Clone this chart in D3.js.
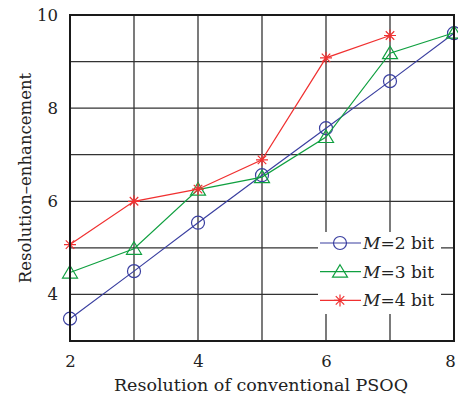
<!DOCTYPE html>
<html>
<head>
<meta charset="utf-8">
<script src="https://cdn.jsdelivr.net/npm/d3@7"></script>
<style>
  body { margin: 0; background: #fff; }
  text { font-family: "DejaVu Serif", serif; fill: #222; }
</style>
</head>
<body>
<svg id="chart" width="458" height="400"></svg>
<script>
const xValues = [2, 3, 4, 5, 6, 7, 8]
const m2 = [3.48, 4.50, 5.54, 6.56, 7.57, 8.58, 9.61]
const m3 = [4.47, 4.98, 6.25, 6.52, 7.38, 9.18, 9.62]
const m4 = [5.07, 6.00, 6.26, 6.89, 9.08, 9.56]
const xTicks = [2, 4, 6, 8]
const yTicks = [4, 6, 8, 10]
const seriesNames = ["2", "3", "4"]

const margin = {top: 15, right: 4, bottom: 59, left: 70}
const width = 458, height = 400

const svg = d3.select("#chart")

const x = d3.scaleLinear().domain([2, 8]).range([margin.left, width - margin.right])
const y = d3.scaleLinear().domain([3, 10]).range([height - margin.bottom, margin.top])

// grid
const grid = svg.append("g").attr("stroke", "#333").attr("stroke-width", 1.3)
grid.selectAll(".gx").data(d3.range(3, 8)).join("line")
    .attr("x1", d => x(d)).attr("x2", d => x(d))
    .attr("y1", y(3)).attr("y2", y(10))
grid.selectAll(".gy").data(d3.range(4, 10)).join("line")
    .attr("x1", x(2)).attr("x2", x(8))
    .attr("y1", d => y(d)).attr("y2", d => y(d))

// axes (labels only, the frame is drawn below)
const xAxis = svg.append("g")
    .attr("transform", `translate(0,${y(3)})`)
    .call(d3.axisBottom(x).tickValues(xTicks).tickFormat(d3.format("d")).tickSize(0).tickPadding(14))
const yAxis = svg.append("g")
    .attr("transform", `translate(${x(2)},0)`)
    .call(d3.axisLeft(y).tickValues(yTicks).tickFormat(d3.format("d")).tickSize(0).tickPadding(12))
;[xAxis, yAxis].forEach(a => {
    a.select(".domain").remove()
    a.selectAll("text").attr("font-size", 16.5).attr("font-family", "DejaVu Serif").attr("fill", "#222")
})
// last x label sits at the right edge, pull it in a little
xAxis.selectAll(".tick").filter(d => d === 8).select("text").attr("dx", -4)

const line = d3.line().x((d, i) => x(xValues[i])).y(d => y(d))

const series = [
    {name: seriesNames[0], values: m2, color: "#3a3fa0", marker: "circle"},
    {name: seriesNames[1], values: m3, color: "#10a040", marker: "triangle"},
    {name: seriesNames[2], values: m4, color: "#f03030", marker: "star"}
]

function drawMarker(g, type, color) {
    if (type === "circle") {
        g.append("circle").attr("r", 6.5).attr("fill", "none").attr("stroke", color).attr("stroke-width", 1.2)
    } else if (type === "triangle") {
        g.append("path").attr("d", "M0,-7L7.5,5.5L-7.5,5.5Z").attr("fill", "none").attr("stroke", color).attr("stroke-width", 1.2)
    } else {
        const r = 6
        const p = d3.path()
        for (let k = 0; k < 4; k++) {
            const a = k * Math.PI / 4
            p.moveTo(-r * Math.cos(a), -r * Math.sin(a))
            p.lineTo(r * Math.cos(a), r * Math.sin(a))
        }
        g.append("path").attr("d", p.toString()).attr("stroke", color).attr("stroke-width", 1.2)
    }
}

series.forEach(s => {
    svg.append("path").datum(s.values)
        .attr("d", line).attr("fill", "none")
        .attr("stroke", s.color).attr("stroke-width", 1.2)
    s.values.forEach((v, i) => {
        const g = svg.append("g").attr("transform", `translate(${x(xValues[i])},${y(v)})`)
        drawMarker(g, s.marker, s.color)
    })
})

// frame
svg.append("rect")
    .attr("x", x(2)).attr("y", y(10))
    .attr("width", x(8) - x(2)).attr("height", y(3) - y(10))
    .attr("fill", "none").attr("stroke", "#1a1a1a").attr("stroke-width", 2)

// legend
const legend = svg.append("g")
legend.append("rect").attr("x", 318).attr("y", 232).attr("width", 123).attr("height", 82).attr("fill", "#fff")
series.forEach((s, i) => {
    const ly = 243 + i * 28.7
    const row = legend.append("g").attr("transform", `translate(0,${ly})`)
    row.append("line").attr("x1", 320).attr("x2", 361).attr("stroke", s.color).attr("stroke-width", 1.2)
    const mg = row.append("g").attr("transform", "translate(340,0)")
    drawMarker(mg, s.marker, s.color)
    const t = row.append("text").attr("x", 363).attr("y", 6).attr("font-size", 17)
    t.append("tspan").attr("font-style", "italic").text("M")
    t.append("tspan").text(`=${s.name} bit`)
})

// axis titles
svg.append("text")
    .attr("x", (x(2) + x(8)) / 2 - 1).attr("y", 391)
    .attr("text-anchor", "middle").attr("font-size", 17.5)
    .text("Resolution of conventional PSOQ")
svg.append("text")
    .attr("transform", `translate(31,${(y(3) + y(10)) / 2}) rotate(-90)`)
    .attr("text-anchor", "middle").attr("font-size", 16.5)
    .text("Resolution\u2013enhancement")
</script>
</body>
</html>
